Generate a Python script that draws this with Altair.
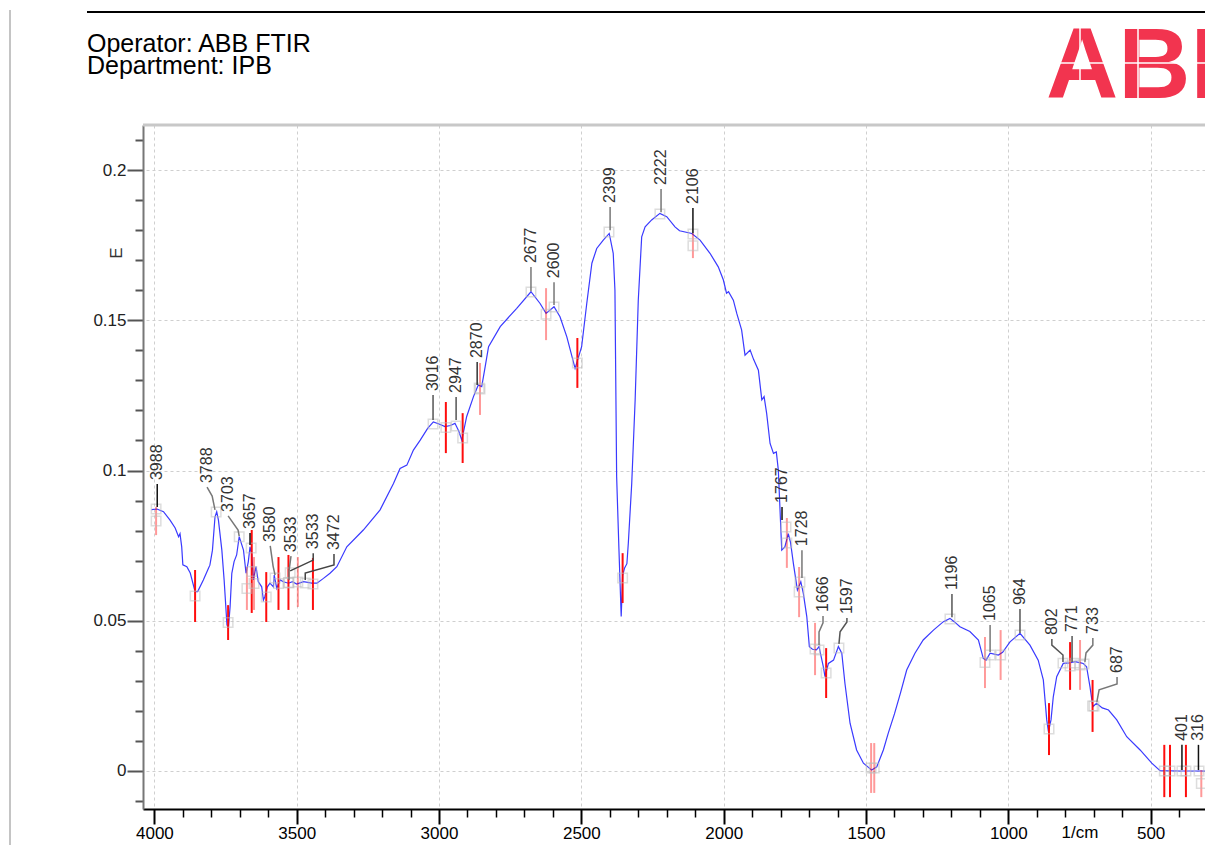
import altair as alt
import pandas as pd

# ---------------- spectrum (wavenumber 1/cm, absorbance E) ----------------
wavenumber = [4010, 3991, 3968, 3945, 3927, 3915, 3910, 3904, 3900, 3886, 3874, 3857, 3848,
              3828, 3810, 3805, 3796, 3787, 3781, 3775, 3763, 3755, 3745, 3740, 3734, 3728,
              3720, 3711, 3702, 3687, 3678, 3670, 3664, 3658, 3652, 3643, 3635, 3623, 3617,
              3612, 3603, 3594, 3582, 3579, 3570, 3558, 3547, 3529, 3515, 3500, 3476, 3447,
              3429, 3406, 3383, 3359, 3324, 3266, 3207, 3160, 3137, 3113, 3090, 3066, 3040,
              3020, 3000, 2979, 2960, 2944, 2930, 2920, 2903, 2879, 2862, 2850, 2838, 2826,
              2785, 2727, 2677, 2645, 2624, 2596, 2575, 2551, 2522, 2499, 2481, 2463, 2446,
              2423, 2402, 2388, 2382, 2376, 2368, 2360, 2355, 2348, 2340, 2335, 2323, 2311,
              2300, 2288, 2276, 2253, 2224, 2200, 2171, 2155, 2112, 2083, 2048, 2019, 2001,
              1990, 1983, 1966, 1954, 1937, 1925, 1907, 1895, 1878, 1866, 1858, 1849, 1837,
              1825, 1815, 1808, 1802, 1796, 1785, 1773, 1765, 1755, 1741, 1729, 1720, 1708,
              1699, 1688, 1674, 1665, 1650, 1644, 1632, 1614, 1597, 1585, 1574, 1556, 1533,
              1509, 1480, 1462, 1439, 1422, 1400, 1379, 1357, 1328, 1299, 1263, 1228, 1205,
              1190, 1170, 1135, 1105, 1088, 1078, 1064, 1035, 1020, 994, 959, 924, 895, 877,
              865, 859, 850, 842, 830, 807, 785, 766, 745, 737, 725, 713, 703, 690, 670, 648,
              619, 584, 537, 496, 467, 400, 291]
absorbance = [0.0870, 0.0872, 0.0863, 0.0835, 0.0809, 0.0780, 0.0790, 0.0746, 0.0686, 0.0680,
              0.0659, 0.0597, 0.0597, 0.0636, 0.0675, 0.0685, 0.0735, 0.0846, 0.0863, 0.0835,
              0.0735, 0.0636, 0.0486, 0.0475, 0.0547, 0.0658, 0.0697, 0.0719, 0.0780, 0.0735,
              0.0658, 0.0697, 0.0746, 0.0720, 0.0636, 0.0680, 0.0630, 0.0613, 0.0569, 0.0580,
              0.0613, 0.0625, 0.0613, 0.0652, 0.0608, 0.0636, 0.0630, 0.0625, 0.0630, 0.0622,
              0.0630, 0.0625, 0.0625, 0.0641, 0.0658, 0.0680, 0.0746, 0.0802, 0.0869, 0.0957,
              0.1007, 0.1018, 0.1068, 0.1101, 0.1140, 0.1162, 0.1155, 0.1146, 0.1150, 0.1157,
              0.1130, 0.1101, 0.1179, 0.1246, 0.1285, 0.1279, 0.1345, 0.1412, 0.1479, 0.1540,
              0.1595, 0.1556, 0.1523, 0.1545, 0.1512, 0.1445, 0.1340, 0.1412, 0.1556, 0.1690,
              0.1739, 0.1767, 0.1789, 0.1723, 0.1600, 0.0979, 0.0740, 0.0514, 0.0650, 0.0676,
              0.0690, 0.0758, 0.0957, 0.1235, 0.1567, 0.1778, 0.1811, 0.1834, 0.1856, 0.1845,
              0.1811, 0.1798, 0.1789, 0.1767, 0.1723, 0.1678, 0.1634, 0.1590, 0.1595, 0.1567,
              0.1523, 0.1468, 0.1384, 0.1401, 0.1370, 0.1334, 0.1235, 0.1246, 0.1190, 0.1090,
              0.1057, 0.1062, 0.1002, 0.0869, 0.0735, 0.0746, 0.0790, 0.0760, 0.0690, 0.0602,
              0.0630, 0.0590, 0.0514, 0.0414, 0.0405, 0.0403, 0.0414, 0.0347, 0.0314, 0.0358,
              0.0369, 0.0414, 0.0392, 0.0292, 0.0159, 0.0070, 0.0026, 0.0003, 0.0014, 0.0070,
              0.0125, 0.0190, 0.0259, 0.0336, 0.0392, 0.0436, 0.0469, 0.0497, 0.0508, 0.0497,
              0.0480, 0.0464, 0.0436, 0.0375, 0.0369, 0.0392, 0.0386, 0.0395, 0.0430, 0.0458,
              0.0419, 0.0369, 0.0303, 0.0170, 0.0131, 0.0170, 0.0247, 0.0314, 0.0358, 0.0360,
              0.0364, 0.0360, 0.0358, 0.0347, 0.0280, 0.0214, 0.0225, 0.0210, 0.0203, 0.0170,
              0.0114, 0.0070, 0.0026, 0.0001, 0.0000, 0.0000]

# ---------------- peak labels ----------------
peak_text = ["3988", "3788", "3703", "3657", "3580", "3533", "3533", "3472", "3016", "2947",
             "2870", "2677", "2600", "2399", "2222", "2106", "1767", "1728", "1666", "1597",
             "1196", "1065", "964", "802", "771", "733", "687", "401", "316"]
peak_wn = [3994, 3783, 3702, 3660, 3576, 3527, 3523, 3470, 3021, 2940, 2859, 2677, 2596, 2403,
           2224, 2108, 1781, 1732, 1665, 1595, 1205, 1064, 959, 808, 766, 734, 699, 390, 330]
peak_e = [0.0872, 0.0862, 0.0780, 0.0742, 0.0642, 0.0626, 0.0660, 0.0626, 0.1155, 0.1148,
          0.1275, 0.1594, 0.1544, 0.1794, 0.1854, 0.1787, 0.0812, 0.0629, 0.0403, 0.0409,
          0.0506, 0.0386, 0.0453, 0.0359, 0.0359, 0.0356, 0.0216, 0.0000, 0.0000]
leader_color = ["#111", "#777", "#777", "#111", "#777", "#777", "#444", "#444", "#555", "#555",
                "#333", "#777", "#777", "#777", "#777", "#111", "#111", "#777", "#777", "#555",
                "#555", "#777", "#555", "#555", "#555", "#777", "#777", "#111", "#111"]
# leader polylines: list of (wavenumber, E) per label, first point = label anchor
leader_pts = [
    [(3990, 0.0955), (3990, 0.0879)],
    [(3815, 0.0945), (3797, 0.0915), (3787, 0.0869)],
    [(3741, 0.0849), (3706, 0.0802), (3702, 0.0782)],
    [(3664, 0.0792), (3664, 0.0752)],
    [(3593, 0.0749), (3583, 0.0682), (3576, 0.0652)],
    [(3520, 0.0715), (3527, 0.0666), (3527, 0.0636)],
    [(3442, 0.0725), (3442, 0.0702), (3523, 0.0666)],
    [(3369, 0.0722), (3369, 0.0686), (3470, 0.0659), (3470, 0.0636)],
    [(3021, 0.1251), (3021, 0.1168)],
    [(2940, 0.1245), (2940, 0.1168)],
    [(2866, 0.1361), (2866, 0.1285)],
    [(2677, 0.1677), (2677, 0.1597)],
    [(2596, 0.1627), (2596, 0.1551)],
    [(2399, 0.1877), (2399, 0.1800)],
    [(2220, 0.1937), (2220, 0.1860)],
    [(2108, 0.1874), (2108, 0.1790)],
    [(1795, 0.0879), (1795, 0.0835)],
    [(1725, 0.0735), (1725, 0.0642)],
    [(1651, 0.0516), (1651, 0.0493), (1665, 0.0463), (1665, 0.0419)],
    [(1567, 0.0509), (1567, 0.0496), (1591, 0.0463), (1595, 0.0423)],
    [(1198, 0.0589), (1198, 0.0512)],
    [(1064, 0.0486), (1064, 0.0396)],
    [(959, 0.0539), (959, 0.0459)],
    [(847, 0.0439), (847, 0.0419), (808, 0.0386), (808, 0.0363)],
    [(776, 0.0449), (776, 0.0363)],
    [(703, 0.0443), (703, 0.0419), (727, 0.0393), (731, 0.0363)],
    [(618, 0.0313), (618, 0.0290), (681, 0.0270), (689, 0.0230)],
    [(390, 0.0087), (390, 0.0003)],
    [(332, 0.0087), (332, 0.0003)],
]

# ---------------- valley (red) markers ----------------
valley_wn = [3994, 3857, 3741, 3675, 3658, 3650, 3607, 3564, 3529, 3496, 3443, 2976, 2917,
             2856, 2624, 2514, 2108, 2355, 1778, 1735, 1679, 1640, 1482, 1471, 1082, 1027,
             857, 783, 748, 704, 452, 432, 376, 322]
valley_top = [0.0879, 0.0669, 0.0552, 0.0679, 0.0802, 0.0712, 0.0662, 0.0712, 0.0719, 0.0712,
              0.0709, 0.1228, 0.1191, 0.1358, 0.1607, 0.1441, 0.1790, 0.0725, 0.0842, 0.0679,
              0.0493, 0.0409, 0.0093, 0.0093, 0.0446, 0.0469, 0.0226, 0.0429, 0.0436, 0.0303,
              0.0087, 0.0087, 0.0087, 0.0003]
valley_bot = [0.0785, 0.0496, 0.0436, 0.0536, 0.0526, 0.0536, 0.0496, 0.0536, 0.0536, 0.0546,
              0.0536, 0.1058, 0.1025, 0.1185, 0.1434, 0.1275, 0.1707, 0.0559, 0.0676, 0.0512,
              0.0319, 0.0243, -0.0073, -0.0073, 0.0276, 0.0303, 0.0053, 0.0270, 0.0270, 0.0130,
              -0.0087, -0.0087, -0.0087, -0.0087]
valley_strong = [0, 1, 1, 0, 1, 0, 1, 1, 1, 0, 1, 1, 1, 0, 0, 1, 0, 1, 0, 0, 0, 1, 0, 0, 0, 0,
                 1, 1, 0, 1, 1, 1, 1, 0]

x_tick_values = list(range(4000, 299, -100))
y_tick_values = [-0.01, 0.0, 0.01, 0.02, 0.03, 0.04, 0.05, 0.06, 0.07, 0.08, 0.09, 0.1, 0.11,
                 0.12, 0.13, 0.14, 0.15, 0.16, 0.17, 0.18, 0.19, 0.2, 0.21]
header_lines = ["Operator: ABB FTIR", "Department: IPB"]

# ---------------- tables ----------------
spec = pd.DataFrame({"wn": wavenumber, "e": absorbance, "i": range(len(wavenumber))})
labels = pd.DataFrame({"t": peak_text,
                       "wn": [p[0][0] for p in leader_pts],
                       "e": [p[0][1] for p in leader_pts]})
markers = pd.DataFrame({"wn": peak_wn, "e": peak_e})
rows = []
for k, pts in enumerate(leader_pts):
    for j, (w, e) in enumerate(pts):
        rows.append({"id": k, "o": j, "wn": w, "e": e, "c": leader_color[k]})
leaders = pd.DataFrame(rows)
valleys = pd.DataFrame({"wn": valley_wn, "top": valley_top, "bot": valley_bot,
                        "op": [0.95 if s else 0.4 for s in valley_strong],
                        "mid": [(a + b) / 2 for a, b in zip(valley_top, valley_bot)]})

W, H = 1062, 684
FONT = "Liberation Sans"
xs = alt.Scale(domain=[309, 4040], reverse=True, nice=False, zero=False)
ys = alt.Scale(domain=[-0.01265, 0.215], nice=False, zero=False)

major_x = "datum.value % 500 === 0"
major_y = "round(datum.value * 100) % 5 === 0"
XT = 15

xaxis = alt.Axis(values=x_tick_values, tickCount=500, title=None, grid=True, gridDash=[3, 3],
                 gridColor="#cfcfcf", gridWidth=1,
                 gridOpacity={"condition": {"test": major_x, "value": 1}, "value": 0},
                 tickSize={"condition": {"test": major_x, "value": XT}, "value": 8},
                 tickWidth={"condition": {"test": major_x, "value": 2}, "value": 1.5},
                 tickColor="#000", domainColor="#000", domainWidth=2,
                 format="d", labelExpr="datum.value % 500 === 0 ? datum.label : ''",
                 labelFont=FONT, labelFontSize=17, labelColor="#000", labelPadding=1,
                 labelOverlap=False, labelFlush=False)
yaxis = alt.Axis(values=y_tick_values, tickCount=500, title=None, grid=True, gridDash=[3, 3],
                 gridColor="#cfcfcf", gridWidth=1,
                 gridOpacity={"condition": {"test": major_y, "value": 1}, "value": 0},
                 tickSize={"condition": {"test": major_y, "value": 16}, "value": 8},
                 tickWidth=2, tickColor="#555", domainColor="#777", domainWidth=2,
                 labelExpr="round(datum.value * 100) % 5 === 0 ? format(datum.value, '~g') : ''",
                 labelFont=FONT, labelFontSize=17, labelColor="#222", labelPadding=1,
                 labelOverlap=False, labelFlush=False)

base_x = alt.X("wn:Q", scale=xs, axis=xaxis)
base_y = alt.Y("e:Q", scale=ys, axis=yaxis)

line = alt.Chart(spec).mark_line(color="#3a3aff", strokeWidth=1.2).encode(
    x=base_x, y=base_y, order="i:Q")

red = alt.Chart(valleys).mark_rule(color="#ff0000", strokeWidth=2).encode(
    x=alt.X("wn:Q", scale=xs), y=alt.Y("top:Q", scale=ys), y2="bot:Q",
    opacity=alt.Opacity("op:Q", scale=None))

vmark = alt.Chart(valleys).mark_point(shape="square", size=90, filled=False,
                                      color="#bdbdbd", strokeWidth=1.5, opacity=0.5).encode(
    x=alt.X("wn:Q", scale=xs), y=alt.Y("mid:Q", scale=ys))

pmark = alt.Chart(markers).mark_point(shape="square", size=90, filled=False,
                                      color="#bdbdbd", strokeWidth=1.5, opacity=0.5).encode(
    x=alt.X("wn:Q", scale=xs), y=alt.Y("e:Q", scale=ys))

lead = alt.Chart(leaders).mark_line(strokeWidth=1.5).encode(
    x=alt.X("wn:Q", scale=xs), y=alt.Y("e:Q", scale=ys), detail="id:N", order="o:Q",
    color=alt.Color("c:N", scale=None))

ltext = alt.Chart(labels).mark_text(angle=270, align="left", baseline="middle", dx=4,
                                    font=FONT, fontSize=16, color="#333").encode(
    x=alt.X("wn:Q", scale=xs), y=alt.Y("e:Q", scale=ys), text="t:N")

one = pd.DataFrame({"a": [0]})
unit = alt.Chart(one).mark_text(font=FONT, fontSize=17, color="#000", baseline="top",
                                align="center").encode(
    x=alt.X("v:Q", scale=xs), y=alt.value(H + XT + 1), text=alt.value("1/cm")
).transform_calculate(v="748")

ytitle = alt.Chart(one).mark_text(font=FONT, fontSize=17, color="#333", angle=270,
                                  align="center", baseline="middle").encode(
    x=alt.value(-26), y=alt.value(128), text=alt.value("E"))

frame_top = alt.Chart(one).mark_rule(color="#c8c8c8", strokeWidth=3).encode(
    x=alt.value(0), x2=alt.value(W), y=alt.value(0))

head_line = alt.Chart(one).mark_rule(color="#000", strokeWidth=2).encode(
    x=alt.value(-56), x2=alt.value(W), y=alt.value(-113))
left_line = alt.Chart(one).mark_rule(color="#b0b0b0", strokeWidth=1.5).encode(
    x=alt.value(-133), y=alt.value(-115), y2=alt.value(H + 40))

head_text = alt.Chart(one).mark_text(font=FONT, fontSize=25, color="#000", align="left",
                                     baseline="alphabetic", lineHeight=22).encode(
    x=alt.value(-56), y=alt.value(-73), text=alt.value(header_lines))

logo = alt.Chart(one).mark_text(font=FONT, fontSize=100, fontWeight="bold", color="#f2344f",
                                align="left", baseline="alphabetic").encode(
    x=alt.value(903), y=alt.value(-27), text=alt.value("ABB"))
logo_h = alt.Chart(one).mark_rule(color="#ffffff", strokeWidth=1.5).encode(
    x=alt.value(900), x2=alt.value(W), y=alt.value(-62))
logo_v = alt.Chart(pd.DataFrame({"px": [937, 995, 1047]})).mark_rule(
    color="#ffffff", strokeWidth=1.5).encode(
    x=alt.X("px:Q", scale=None), y=alt.value(-100), y2=alt.value(-25))

chart = alt.layer(
    line, red, vmark, pmark, lead, ltext, unit, ytitle, frame_top,
    head_line, left_line, head_text, logo, logo_h, logo_v
).properties(
    width=W, height=H,
    autosize=alt.AutoSizeParams(type="none"),
    padding={"left": 135, "top": 117, "right": 0, "bottom": 36},
).configure_view(stroke=None).configure(background="#ffffff")

chart.save("out.html", embed_options={"renderer": "svg", "actions": False})
